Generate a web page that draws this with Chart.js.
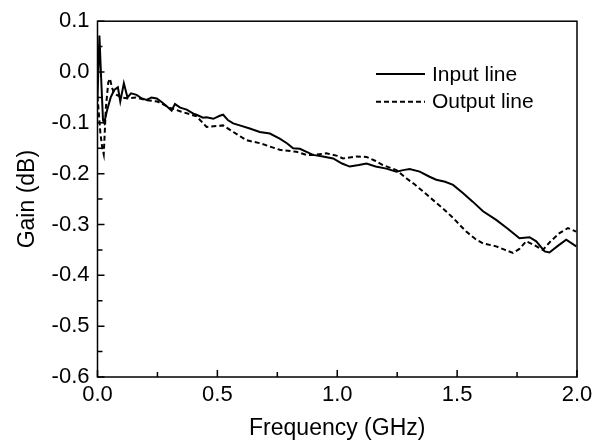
<!DOCTYPE html>
<html>
<head>
<meta charset="utf-8">
<script src="https://cdn.jsdelivr.net/npm/chart.js@4"></script>
<style>
  html, body { margin: 0; padding: 0; background: #fff; }
  #wrap { width: 603px; height: 443px; }
</style>
</head>
<body>
<div id="wrap"><canvas id="gain_chart"></canvas></div>
<script>
// values
var input_freq = [0.000, 0.008, 0.015, 0.023, 0.028, 0.040, 0.055, 0.070, 0.085, 0.095, 0.110, 0.125, 0.140, 0.163, 0.185, 0.205, 0.225, 0.247, 0.270, 0.290, 0.309, 0.323, 0.345, 0.372, 0.400, 0.413, 0.440, 0.455, 0.483, 0.510, 0.524, 0.545, 0.566, 0.600, 0.635, 0.677, 0.719, 0.760, 0.790, 0.816, 0.844, 0.872, 0.899, 0.940, 0.983, 1.020, 1.052, 1.090, 1.122, 1.160, 1.205, 1.247, 1.275, 1.302, 1.344, 1.385, 1.413, 1.450, 1.483, 1.524, 1.565, 1.608, 1.663, 1.710, 1.760, 1.802, 1.830, 1.865, 1.885, 1.920, 1.955, 1.997]
var input_gain = [-0.050, 0.072, -0.010, -0.095, -0.100, -0.075, -0.050, -0.035, -0.030, -0.058, -0.022, -0.050, -0.042, -0.045, -0.052, -0.055, -0.050, -0.052, -0.060, -0.068, -0.076, -0.063, -0.070, -0.074, -0.082, -0.084, -0.090, -0.089, -0.092, -0.086, -0.084, -0.095, -0.101, -0.106, -0.111, -0.118, -0.121, -0.131, -0.140, -0.150, -0.151, -0.157, -0.163, -0.166, -0.170, -0.180, -0.186, -0.183, -0.180, -0.186, -0.190, -0.196, -0.193, -0.191, -0.196, -0.206, -0.212, -0.216, -0.222, -0.238, -0.255, -0.274, -0.291, -0.308, -0.327, -0.325, -0.333, -0.353, -0.355, -0.342, -0.330, -0.343]

var output_freq = [0.000, 0.012, 0.020, 0.026, 0.035, 0.045, 0.052, 0.060, 0.068, 0.080, 0.100, 0.130, 0.160, 0.200, 0.250, 0.300, 0.350, 0.413, 0.455, 0.524, 0.560, 0.620, 0.677, 0.760, 0.830, 0.872, 0.899, 0.955, 1.000, 1.024, 1.080, 1.122, 1.160, 1.190, 1.247, 1.288, 1.320, 1.358, 1.400, 1.440, 1.483, 1.538, 1.575, 1.608, 1.663, 1.700, 1.733, 1.760, 1.788, 1.820, 1.858, 1.890, 1.927, 1.962, 1.997]
var output_gain = [-0.048, -0.120, -0.150, -0.162, -0.070, -0.020, -0.013, -0.030, -0.040, -0.045, -0.050, -0.052, -0.050, -0.055, -0.058, -0.070, -0.078, -0.087, -0.108, -0.105, -0.116, -0.134, -0.140, -0.153, -0.157, -0.163, -0.163, -0.160, -0.165, -0.170, -0.166, -0.167, -0.175, -0.183, -0.193, -0.209, -0.220, -0.235, -0.252, -0.268, -0.287, -0.314, -0.328, -0.337, -0.343, -0.350, -0.356, -0.348, -0.333, -0.340, -0.350, -0.333, -0.317, -0.307, -0.314]

var x_ticks = [0, 0.5, 1.0, 1.5, 2.0]
var y_ticks = [0.1, 0.0, -0.1, -0.2, -0.3, -0.4, -0.5, -0.6]
var series_names = ['Input line', 'Output line']

var FONT = "'Liberation Sans', Arial, sans-serif"

function toPoints(xs, ys){
    return xs.map((x, i) => ({x: x, y: ys[i]}));
}

// box round the plot, inward ticks and the legend inside the plot
var framePlugin = {
    id: 'frame',
    afterDraw(chart){
        let ctx = chart.ctx, a = chart.chartArea
        let xs = chart.scales.x, ys = chart.scales.y
        ctx.save()
        ctx.strokeStyle = '#000'
        ctx.lineWidth = 1.5
        ctx.strokeRect(a.left, a.top, a.right - a.left, a.bottom - a.top)

        ctx.beginPath()
        for (let v = 0; v <= 2.0001; v += 0.25) {
            let px = xs.getPixelForValue(v)
            let len = (Math.round(v * 4) % 2 == 0) ? 7 : 5
            ctx.moveTo(px, a.bottom); ctx.lineTo(px, a.bottom - len)
        }
        for (let k = 0; k <= 14; k++) {
            let v = 0.1 - k * 0.05
            let py = ys.getPixelForValue(v)
            let len = (k % 2 == 0) ? 7 : 5
            ctx.moveTo(a.left, py); ctx.lineTo(a.left + len, py)
        }
        ctx.stroke()

        // legend
        ctx.font = '21px ' + FONT
        ctx.fillStyle = '#000'
        ctx.textBaseline = 'middle'
        chart.data.datasets.forEach((ds, i) => {
            let y = 74 + i * 27.7
            ctx.beginPath()
            ctx.lineWidth = 2
            ctx.setLineDash(ds.borderDash || [])
            ctx.moveTo(376, y); ctx.lineTo(425, y)
            ctx.stroke()
            ctx.setLineDash([])
            ctx.fillText(ds.label, 432, y + 1)
        })
        ctx.restore()
    }
}

new Chart(document.getElementById('gain_chart').getContext('2d'), {
    type: 'line',
    data: {
        datasets: [{
            label: series_names[0],
            data: toPoints(input_freq, input_gain),
            borderColor: '#000',
            borderWidth: 2,
            pointRadius: 0,
            tension: 0
        }, {
            label: series_names[1],
            data: toPoints(output_freq, output_gain),
            borderColor: '#000',
            borderWidth: 2,
            borderDash: [5, 3],
            pointRadius: 0,
            tension: 0
        }]
    },
    options: {
        responsive: true,
        maintainAspectRatio: false,
        animation: false,
        layout: { padding: { top: 21, right: 26, left: 0, bottom: 0 } },
        plugins: {
            legend: { display: false },
            tooltip: { enabled: false }
        },
        scales: {
            x: {
                type: 'linear',
                min: 0, max: 2,
                afterBuildTicks: s => { s.ticks = x_ticks.map(v => ({value: v})) },
                afterFit: s => { s.height = 66 },
                grid: { display: false, drawTicks: false },
                border: { display: false },
                ticks: {
                    color: '#000',
                    font: { family: FONT, size: 22 },
                    padding: 5,
                    maxRotation: 0,
                    callback: v => Number(v).toFixed(1)
                },
                title: {
                    display: true,
                    text: 'Frequency (GHz)',
                    color: '#000',
                    font: { family: FONT, size: 23 },
                    padding: { top: 0, bottom: 1 }
                }
            },
            y: {
                type: 'linear',
                min: -0.6, max: 0.1,
                afterBuildTicks: s => { s.ticks = y_ticks.map(v => ({value: v})) },
                afterFit: s => { s.width = 97.5 },
                grid: { display: false, drawTicks: false },
                border: { display: false },
                ticks: {
                    color: '#000',
                    font: { family: FONT, size: 22 },
                    padding: 8,
                    callback: v => Number(v).toFixed(1)
                },
                title: {
                    display: true,
                    text: 'Gain (dB)',
                    color: '#000',
                    font: { family: FONT, size: 23 },
                    padding: { top: 14, bottom: 0 }
                }
            }
        }
    },
    plugins: [framePlugin]
});
</script>
</body>
</html>
